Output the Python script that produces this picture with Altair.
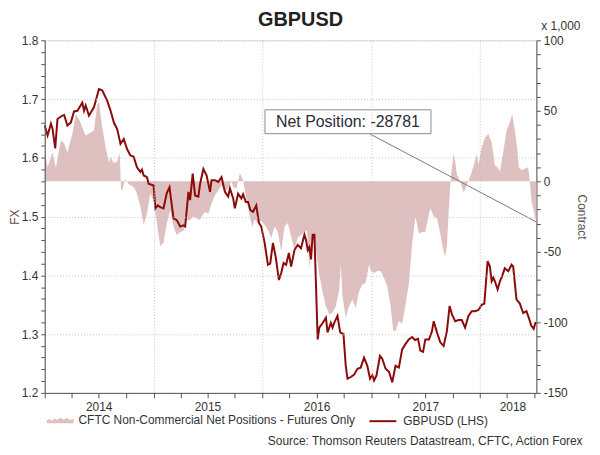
import altair as alt
import pandas as pd

# ---------------- data ----------------
# GBPUSD weekly closes (decimal year, FX)
fx_dates = [
    2014.000, 2014.026, 2014.057, 2014.071, 2014.096, 2014.117, 2014.163, 2014.178, 2014.208, 2014.239,
    2014.269, 2014.300, 2014.345, 2014.361, 2014.376, 2014.406, 2014.452, 2014.498, 2014.528, 2014.574,
    2014.605, 2014.635, 2014.665, 2014.696, 2014.726, 2014.756, 2014.787, 2014.817, 2014.847, 2014.879,
    2014.893, 2014.909, 2014.939, 2014.954,
    2015.000, 2015.016, 2015.039, 2015.061, 2015.091, 2015.121, 2015.146, 2015.167, 2015.183, 2015.213,
    2015.244, 2015.274, 2015.290, 2015.320, 2015.335, 2015.359, 2015.381, 2015.411, 2015.426, 2015.457,
    2015.487, 2015.518, 2015.532, 2015.563, 2015.594, 2015.624, 2015.655, 2015.685, 2015.701, 2015.731,
    2015.746, 2015.776, 2015.806, 2015.822, 2015.847, 2015.868, 2015.889, 2015.913, 2015.943, 2015.968,
    2015.989,
    2016.020, 2016.050, 2016.071, 2016.096, 2016.121, 2016.151, 2016.172, 2016.194, 2016.217, 2016.242,
    2016.263, 2016.294, 2016.324, 2016.354, 2016.385, 2016.400, 2016.416, 2016.431, 2016.446, 2016.461,
    2016.477, 2016.491, 2016.507, 2016.522, 2016.553, 2016.583, 2016.598, 2016.628, 2016.644, 2016.659,
    2016.689, 2016.714, 2016.744, 2016.765, 2016.781, 2016.811, 2016.842, 2016.872, 2016.902, 2016.933,
    2016.963, 2016.988,
    2017.009, 2017.025, 2017.048, 2017.079, 2017.100, 2017.131, 2017.162, 2017.192, 2017.222, 2017.253,
    2017.283, 2017.313, 2017.344, 2017.374, 2017.402, 2017.429, 2017.450, 2017.475, 2017.496, 2017.530,
    2017.557, 2017.573, 2017.603, 2017.633, 2017.664, 2017.694, 2017.719, 2017.740, 2017.770, 2017.801,
    2017.831, 2017.861, 2017.892, 2017.922, 2017.953, 2017.984,
    2018.014, 2018.038, 2018.050, 2018.068, 2018.089, 2018.105, 2018.121, 2018.135, 2018.160, 2018.181,
    2018.196, 2018.226, 2018.258, 2018.288, 2018.303, 2018.333, 2018.364, 2018.395, 2018.425, 2018.446,
    2018.470, 2018.491, 2018.507, 2018.516,
]
fx_values = [
    1.655, 1.638, 1.658, 1.650, 1.616, 1.666, 1.672, 1.673, 1.655, 1.660,
    1.679, 1.680, 1.694, 1.680, 1.689, 1.672, 1.686, 1.717, 1.715, 1.697,
    1.680, 1.660, 1.649, 1.624, 1.632, 1.615, 1.604, 1.602, 1.584, 1.576,
    1.580, 1.570, 1.567, 1.556,
    1.553, 1.514, 1.519, 1.516, 1.514, 1.540, 1.550, 1.519, 1.497, 1.494,
    1.483, 1.485, 1.483, 1.542, 1.528, 1.573, 1.536, 1.534, 1.555, 1.581,
    1.570, 1.542, 1.562, 1.562, 1.559, 1.567, 1.542, 1.534, 1.548, 1.531,
    1.514, 1.539, 1.531, 1.538, 1.525, 1.525, 1.511, 1.508, 1.519, 1.489,
    1.483,
    1.455, 1.418, 1.420, 1.455, 1.432, 1.392, 1.404, 1.421, 1.418, 1.438,
    1.415, 1.443, 1.452, 1.446, 1.469, 1.460, 1.443, 1.448, 1.427, 1.469,
    1.469, 1.387, 1.291, 1.311, 1.319, 1.328, 1.303, 1.319, 1.311, 1.319,
    1.331, 1.303, 1.300, 1.246, 1.224, 1.227, 1.231, 1.241, 1.243, 1.260,
    1.246, 1.224,
    1.230, 1.221, 1.230, 1.263, 1.258, 1.241, 1.236, 1.218, 1.246, 1.243,
    1.274, 1.283, 1.291, 1.295, 1.290, 1.292, 1.272, 1.270, 1.291, 1.291,
    1.305, 1.322, 1.303, 1.286, 1.280, 1.305, 1.348, 1.334, 1.322, 1.324,
    1.324, 1.311, 1.331, 1.339, 1.339, 1.341,
    1.350, 1.352, 1.381, 1.424, 1.415, 1.390, 1.396, 1.390, 1.376, 1.390,
    1.396, 1.412, 1.407, 1.418, 1.415, 1.359, 1.352, 1.336, 1.339, 1.328,
    1.314, 1.309, 1.319, 1.318,
]

# CFTC non-commercial net positions (decimal year, thousands of contracts)
cftc_dates = [
    2014.000, 2014.026, 2014.071, 2014.102, 2014.148, 2014.178, 2014.208, 2014.254, 2014.285, 2014.315,
    2014.345, 2014.376, 2014.406, 2014.452, 2014.482, 2014.498, 2014.528, 2014.559, 2014.589, 2014.605,
    2014.635, 2014.665, 2014.689, 2014.701, 2014.711, 2014.742, 2014.772, 2014.817, 2014.847, 2014.879,
    2014.909, 2014.939, 2014.970,
    2015.000, 2015.030, 2015.061, 2015.091, 2015.121, 2015.153, 2015.183, 2015.213, 2015.244, 2015.274,
    2015.304, 2015.335, 2015.365, 2015.395, 2015.426, 2015.441, 2015.472, 2015.502, 2015.532, 2015.563,
    2015.594, 2015.624, 2015.655, 2015.685, 2015.715, 2015.731, 2015.761, 2015.792, 2015.822, 2015.852,
    2015.883, 2015.907, 2015.929, 2015.959, 2015.989,
    2016.020, 2016.050, 2016.080, 2016.111, 2016.142, 2016.172, 2016.203, 2016.233, 2016.263, 2016.294,
    2016.324, 2016.354, 2016.385, 2016.409, 2016.431, 2016.446, 2016.461, 2016.491, 2016.522, 2016.553,
    2016.583, 2016.614, 2016.644, 2016.674, 2016.705, 2016.720, 2016.735, 2016.765, 2016.795, 2016.826,
    2016.857, 2016.888, 2016.918, 2016.947, 2016.979, 2016.994,
    2017.025, 2017.055, 2017.085, 2017.116, 2017.146, 2017.176, 2017.201, 2017.222, 2017.253, 2017.283,
    2017.313, 2017.344, 2017.374, 2017.405, 2017.437, 2017.466, 2017.496, 2017.527, 2017.542, 2017.573,
    2017.603, 2017.633, 2017.664, 2017.678, 2017.694, 2017.710, 2017.724, 2017.740, 2017.755, 2017.770,
    2017.785, 2017.816, 2017.847, 2017.861, 2017.877, 2017.892, 2017.922, 2017.953, 2017.968, 2017.984,
    2018.014, 2018.044, 2018.075, 2018.105, 2018.135, 2018.160, 2018.181, 2018.210, 2018.242, 2018.272,
    2018.294, 2018.318, 2018.342, 2018.354, 2018.379, 2018.409, 2018.440, 2018.455, 2018.470, 2018.500,
    2018.516,
]
cftc_values = [
    21.8, 10.0, 20.6, 9.6, 28.9, 27.0, 20.6, 33.6, 47.7, 44.0,
    38.3, 32.4, 34.0, 36.0, 54.7, 55.9, 38.3, 24.2, 13.6, 17.0,
    13.0, 14.0, 20.0, -6.0, -6.3, 1.9, -2.0, -4.0, -8.7, -18.0,
    -31.0, -22.8, -8.7,
    -14.0, -29.6, -46.0, -43.5, -30.0, -20.4, -32.0, -38.0, -36.0, -35.0,
    -27.5, -27.5, -25.0, -26.0, -27.5, -25.0, -21.6, -23.0, -15.7, -9.9,
    -6.3, -2.8, -7.5, -5.0, 0.0, -4.0, -5.0, 5.9, 0.7, -12.2,
    -25.0, -32.2, -27.0, -29.8, -28.0,
    -31.0, -34.5, -40.4, -32.0, -36.0, -49.8, -32.0, -29.5, -39.0, -48.6,
    -40.0, -38.0, -35.7, -35.0, -62.0, -44.0, -40.0, -48.6, -66.0, -79.0,
    -88.5, -94.4, -93.0, -88.5, -76.7, -59.0, -81.5, -96.7, -88.5, -84.0,
    -89.7, -78.0, -73.0, -72.0, -59.0, -63.5,
    -65.0, -63.5, -63.5, -68.5, -74.4, -88.0, -106.0, -106.0, -99.0, -101.0,
    -88.0, -73.0, -45.0, -25.0, -37.0, -36.0, -36.0, -24.0, -19.0, -25.0,
    -26.0, -37.0, -50.0, -53.3, -46.0, -22.0, -4.0, 10.0, 19.5, 14.8,
    5.0, 0.0, -7.5, -6.0, -2.0, 0.0, 6.6, 14.8, 19.5, 12.0,
    24.2, 31.2, 33.6, 27.7, 11.3, 10.0, 7.0, 20.0, 36.0, 41.8,
    47.7, 36.0, 22.0, 10.0, 8.0, 9.0, 10.0, 1.0, -13.4, -24.0,
    -28.781,
]
assert len(fx_dates) == len(fx_values)
assert len(cftc_dates) == len(cftc_values)

chart_title = "GBPUSD"
source_text = "Source: Thomson Reuters Datastream, CFTC, Action Forex"
area_label = "CFTC Non-Commercial Net Positions - Futures Only"
line_label = "GBPUSD (LHS)"
unit_label = "x 1,000"
fx_title = "FX"
contract_title = "Contract"

# annotation box / leader (decimal year, thousands of contracts)
box_dates = [2016.023, 2017.548]
box_values = [33.8, 50.7]
note_date = 2016.785
note_value = 42.3
leader_start = [2016.982, 33.8]

x_start = "2014-01-01"
x_label_dates = ["2014-07-01", "2015-07-01", "2016-07-01", "2017-07-01", "2018-04-19"]
fx_domain = [1.2, 1.8]
contract_domain = [-150, 100]

# colours / fonts
FONT = "Liberation Sans"
LINE_COLOR = "#8b0b0b"
AREA_COLOR = "#dfc0c0"
GRID_COLOR = "#c4c4c4"
AXIS_COLOR = "#555555"
TEXT_COLOR = "#333333"

# ---------------- helpers ----------------
BASE = pd.Timestamp("2014-01-01", tz="UTC")


def dec_to_ts(y):
    return BASE + pd.Timedelta(days=(y - 2014.0) * 365.25)


def iso(y):
    return dec_to_ts(y).strftime("%Y-%m-%dT%H:%M:%SZ")


def ms_of_ts(ts):
    return int(ts.value // 10**6)


def ms_of_str(s):
    return ms_of_ts(pd.Timestamp(s, tz="UTC"))


fx_df = pd.DataFrame({
    "date": [iso(d) for d in fx_dates],
    "fx": fx_values,
    "series": line_label,
})
cftc_df = pd.DataFrame({
    "date": [iso(d) for d in cftc_dates],
    "contract": cftc_values,
    "zero": 0.0,
    "series": area_label,
})

last_date = cftc_dates[-1]
last_value = cftc_values[-1]
net_text = "Net Position: %d" % round(last_value * 1000)

box_df = pd.DataFrame({
    "x1": [iso(box_dates[0])], "x2": [iso(box_dates[1])],
    "y1": [box_values[0]], "y2": [box_values[1]],
})
leader_df = pd.DataFrame({
    "x1": [iso(leader_start[0])], "x2": [iso(last_date)],
    "y1": [leader_start[1]], "y2": [last_value],
})
note_df = pd.DataFrame({"x": [iso(note_date)], "y": [note_value], "label": [net_text]})
unit_df = pd.DataFrame({"x": [iso(last_date)], "y": [contract_domain[1]], "label": [unit_label]})

end_ms = ms_of_ts(dec_to_ts(last_date))
x_domain = [ms_of_str(x_start), end_ms]

quarter_ticks = []
for yr in range(2014, 2019):
    for mo in (1, 4, 7, 10):
        v = ms_of_str("%d-%02d-01" % (yr, mo))
        if v <= end_ms:
            quarter_ticks.append(v)
x_tick_values = sorted(quarter_ticks + [ms_of_str(s) for s in x_label_dates if s.endswith("19")])

fx_tick_values = [round(1.2 + 0.02 * i, 2) for i in range(31)]
contract_tick_values = list(range(-150, 101, 10))

# ---------------- scales & axes ----------------
x_scale = alt.Scale(type="utc", domain=x_domain, nice=False)
fx_scale = alt.Scale(domain=fx_domain, nice=False, zero=False)
contract_scale = alt.Scale(domain=contract_domain, nice=False, zero=False)

label_test = "(utcmonth(datum.value) == 6 && utcdate(datum.value) == 1 && utcyear(datum.value) < 2018) || utcdate(datum.value) != 1"

x_axis = alt.Axis(
    values=x_tick_values,
    labelExpr="(" + label_test + ") ? utcFormat(datum.value, '%Y') : ''",
    labelOverlap=False,
    labelFlush=False,
    labelFont=FONT, labelFontSize=12, labelColor=TEXT_COLOR, labelPadding=4,
    tickSize=5, tickColor=AXIS_COLOR,
    tickOpacity={"condition": {"test": "utcdate(datum.value) != 1", "value": 0}, "value": 1},
    grid=True, gridColor=GRID_COLOR, gridDash=[1, 2],
    gridOpacity={"condition": {"test": "utcmonth(datum.value) == 0 && utcdate(datum.value) == 1", "value": 1}, "value": 0},
    domainColor=AXIS_COLOR,
    title=source_text, titleFont=FONT, titleFontSize=12, titleFontWeight="normal",
    titleColor=TEXT_COLOR, titleAlign="right", titleAnchor="end",
    titleX=541, titleY=48, titleBaseline="middle",
    zindex=1,
)

fx_major = "abs(datum.value * 10 - round(datum.value * 10)) < 0.01"
fx_axis = alt.Axis(
    orient="left",
    values=fx_tick_values,
    labelExpr="(" + fx_major + ") ? format(datum.value, '.1f') : ''",
    labelOverlap=False,
    labelFont=FONT, labelFontSize=12, labelColor=TEXT_COLOR, labelPadding=3,
    tickSize=4, tickColor=AXIS_COLOR, domainColor=AXIS_COLOR,
    grid=True, gridColor=GRID_COLOR, gridDash=[1, 2],
    gridOpacity={"condition": {"test": fx_major, "value": 1}, "value": 0},
    title=fx_title, titleFont=FONT, titleFontSize=12, titleFontWeight="normal",
    titleColor="#6a4848", titlePadding=0,
    zindex=1,
)

contract_axis = alt.Axis(
    orient="right",
    values=contract_tick_values,
    labelExpr="datum.value % 50 == 0 ? '' + datum.value : ''",
    labelOverlap=False,
    labelFont=FONT, labelFontSize=12, labelColor=TEXT_COLOR, labelPadding=3,
    tickSize=4, tickColor=AXIS_COLOR, domainColor=AXIS_COLOR,
    grid=False,
    title=contract_title, titleFont=FONT, titleFontSize=12, titleFontWeight="normal",
    titleColor="#555555", titlePadding=7,
)


def X(field):
    return alt.X(field, type="temporal", scale=x_scale, axis=x_axis)


def YC(field):
    return alt.Y(field, type="quantitative", scale=contract_scale, axis=contract_axis)


area_symbol = ("M-1,0.22 L-1,0.02 L-0.8,-0.08 L-0.6,0.04 L-0.4,-0.14 L-0.2,-0.02 "
               "L0,-0.2 L0.25,-0.04 L0.5,-0.16 L0.75,-0.02 L1,-0.1 L1,0.22 Z")

legend_common = dict(
    orient="none", title=None, padding=0, labelLimit=400,
    labelFont=FONT, labelFontSize=12, labelColor=TEXT_COLOR,
)

area = alt.Chart(cftc_df).mark_area(interpolate="linear").encode(
    x=X("date"),
    y=YC("contract"),
    y2=alt.Y2("zero"),
    fill=alt.Fill(
        "series:N",
        scale=alt.Scale(domain=[area_label], range=[AREA_COLOR]),
        legend=alt.Legend(
            legendX=2, legendY=369,
            symbolType=area_symbol, symbolSize=729, symbolStrokeWidth=0,
            labelOffset=5, **legend_common,
        ),
    ),
)

leader = alt.Chart(leader_df).mark_rule(color="#7a7a7a", strokeWidth=1).encode(
    x=X("x1"), x2=alt.X2("x2"), y=YC("y1"), y2=alt.Y2("y2"),
)

box = alt.Chart(box_df).mark_rect(fill="white", stroke="#8c8c8c", strokeWidth=1).encode(
    x=X("x1"), x2=alt.X2("x2"), y=YC("y1"), y2=alt.Y2("y2"),
)

note = alt.Chart(note_df).mark_text(
    font=FONT, fontSize=16, color="#2b2b3a", align="center", baseline="middle",
).encode(x=X("x"), y=YC("y"), text="label:N")

unit = alt.Chart(unit_df).mark_text(
    font=FONT, fontSize=12, color=TEXT_COLOR, align="left", baseline="middle", dx=5, dy=-14,
).encode(x=X("x"), y=YC("y"), text="label:N")

line = alt.Chart(fx_df).mark_line(strokeWidth=2, interpolate="linear").encode(
    x=X("date"),
    y=alt.Y("fx:Q", scale=fx_scale, axis=fx_axis),
    stroke=alt.Stroke(
        "series:N",
        scale=alt.Scale(domain=[line_label], range=[LINE_COLOR]),
        legend=alt.Legend(
            legendX=326, legendY=369,
            symbolType="stroke", symbolSize=729, symbolStrokeWidth=2,
            labelOffset=6, **legend_common,
        ),
    ),
)

contract_layer = alt.layer(area, leader, box, note, unit)

chart = alt.layer(contract_layer, line).resolve_scale(
    y="independent"
).properties(
    width=495,
    height=355,
    title=alt.TitleParams(
        chart_title, font=FONT, fontSize=20, fontWeight="bold", color="#222222",
        anchor="middle", offset=-10, dx=10,
    ),
    padding={"left": 37, "top": 31, "right": 56, "bottom": 58},
    autosize=alt.AutoSizeParams(type="none"),
).configure_view(stroke=None).configure(font=FONT)

chart.save("out.html", embed_options={"renderer": "svg", "actions": False})
